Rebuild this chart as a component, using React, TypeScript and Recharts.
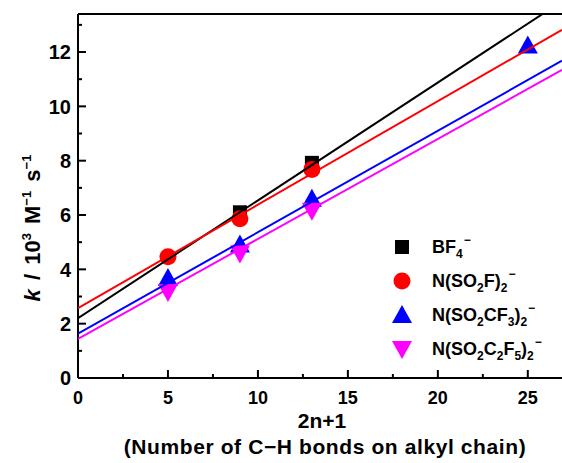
import { ScatterChart, Scatter, XAxis, YAxis, ReferenceLine } from "recharts";

// measured points (x = 2n+1, y = k / 10^3 M^-1 s^-1)
const BF4_PTS = [
  { x: 9, y: 6.1 },
  { x: 13, y: 7.92 },
];
const FSI_PTS = [
  { x: 5, y: 4.46 },
  { x: 9, y: 5.86 },
  { x: 13, y: 7.68 },
];
const TFSI_PTS = [
  { x: 5, y: 3.64 },
  { x: 9, y: 4.88 },
  { x: 13, y: 6.56 },
  { x: 25, y: 12.2 },
];
const BETI_PTS = [
  { x: 5, y: 3.2 },
  { x: 9, y: 4.62 },
  { x: 13, y: 6.19 },
];

// fitted lines, endpoints at x = 0 and right edge
const BF4_FIT = [
  { x: 0, y: 2.2 },
  { x: 26.9, y: 13.87 },
];
const FSI_FIT = [
  { x: 0, y: 2.57 },
  { x: 26.9, y: 12.82 },
];
const TFSI_FIT = [
  { x: 0, y: 1.63 },
  { x: 26.9, y: 11.68 },
];
const BETI_FIT = [
  { x: 0, y: 1.44 },
  { x: 26.9, y: 11.34 },
];

const X_TICKS = [0, 2.5, 5, 7.5, 10, 12.5, 15, 17.5, 20, 22.5, 25];
const Y_TICKS = [0, 1, 2, 3, 4, 5, 6, 7, 8, 9, 10, 11, 12, 13];
const X_MAX = 26.9;
const Y_MAX = 13.4;

const FONT = "'Liberation Sans', Arial, sans-serif";

const YTick = (props: any) => {
  const { x, y, payload } = props;
  const v = payload.value;
  const major = v % 2 === 0;
  const axisX = x + 7;
  return (
    <g>
      <line x1={axisX} x2={axisX + (major ? 8 : 4)} y1={y} y2={y} stroke="#000" strokeWidth={2} />
      {major && (
        <text x={x} y={y} dy="0.36em" textAnchor="end" fontSize={20} fontWeight="bold" fontFamily={FONT} fill="#000">
          {v}
        </text>
      )}
    </g>
  );
};

const XTick = (props: any) => {
  const { x, y, payload } = props;
  const v = payload.value;
  const major = v % 5 === 0;
  const axisY = y - 13;
  return (
    <g>
      <line x1={x} x2={x} y1={axisY} y2={axisY - (major ? 8 : 4)} stroke="#000" strokeWidth={2} />
      {major && (
        <text x={x} y={y} dy="0.71em" textAnchor="middle" fontSize={18} fontWeight="bold" fontFamily={FONT} fill="#000">
          {v}
        </text>
      )}
    </g>
  );
};

const Square = (p: any) => <rect x={p.cx - 7} y={p.cy - 7} width={14} height={14} fill="#000" />;
const Dot = (p: any) => <circle cx={p.cx} cy={p.cy} r={8.5} fill="#ff0000" />;
const TriUp = (p: any) => (
  <polygon points={`${p.cx},${p.cy - 11} ${p.cx - 10},${p.cy + 7} ${p.cx + 10},${p.cy + 7}`} fill="#0000ff" />
);
const TriDown = (p: any) => (
  <polygon points={`${p.cx},${p.cy + 11} ${p.cx - 10},${p.cy - 7} ${p.cx + 10},${p.cy - 7}`} fill="#ff00ff" />
);
const NoDot = () => null;

const legendRows = [
  { shape: "square", color: "#000", label: <>BF<sub>4</sub><sup>−</sup></> },
  { shape: "circle", color: "#ff0000", label: <>N(SO<sub>2</sub>F)<sub>2</sub><sup>−</sup></> },
  { shape: "up", color: "#0000ff", label: <>N(SO<sub>2</sub>CF<sub>3</sub>)<sub>2</sub><sup>−</sup></> },
  { shape: "down", color: "#ff00ff", label: <>N(SO<sub>2</sub>C<sub>2</sub>F<sub>5</sub>)<sub>2</sub><sup>−</sup></> },
];

function LegendMarker({ shape, color }: { shape: string; color: string }) {
  return (
    <svg width={22} height={22} style={{ display: "block" }}>
      {shape === "square" && <rect x={4} y={4} width={14} height={14} fill={color} />}
      {shape === "circle" && <circle cx={11} cy={11} r={8.5} fill={color} />}
      {shape === "up" && <polygon points="11,1 1,19 21,19" fill={color} />}
      {shape === "down" && <polygon points="11,21 1,3 21,3" fill={color} />}
    </svg>
  );
}

const supStyle = `
  .lg sub { font-size: 12px; vertical-align: -5px; line-height: 0; }
  .lg sup { font-size: 12px; vertical-align: 9px; line-height: 0; margin-left: 1px; }
  .yl sup { font-size: 13px; vertical-align: 9px; line-height: 0; }
`;

export default function App() {
  return (
    <div style={{ position: "absolute", left: 0, top: 0, width: 562, height: 463, background: "#fff", overflow: "hidden" }}>
      <style>{supStyle}</style>
      <ScatterChart width={562} height={463} margin={{ top: 14, right: 0, bottom: 0, left: 0 }}>
        <XAxis
          type="number"
          dataKey="x"
          domain={[0, X_MAX]}
          ticks={X_TICKS}
          allowDataOverflow
          height={85}
          tickSize={0}
          tickMargin={13}
          tick={<XTick />}
          axisLine={{ stroke: "#000", strokeWidth: 2 }}
          interval={0}
        />
        <YAxis
          type="number"
          dataKey="y"
          domain={[0, Y_MAX]}
          ticks={Y_TICKS}
          allowDataOverflow
          width={78}
          tickSize={0}
          tickMargin={7}
          tick={<YTick />}
          axisLine={{ stroke: "#000", strokeWidth: 2 }}
          interval={0}
        />
        <ReferenceLine y={Y_MAX} stroke="#000" strokeWidth={2} />
        <Scatter data={BF4_PTS} shape={<Square />} isAnimationActive={false} />
        <Scatter data={FSI_PTS} shape={<Dot />} isAnimationActive={false} />
        <Scatter data={TFSI_PTS} shape={<TriUp />} isAnimationActive={false} />
        <Scatter data={BETI_PTS} shape={<TriDown />} isAnimationActive={false} />
        <Scatter data={BF4_FIT} line={{ stroke: "#000", strokeWidth: 2 }} shape={<NoDot />} isAnimationActive={false} />
        <Scatter data={FSI_FIT} line={{ stroke: "#ff0000", strokeWidth: 2 }} shape={<NoDot />} isAnimationActive={false} />
        <Scatter data={TFSI_FIT} line={{ stroke: "#0000ff", strokeWidth: 2 }} shape={<NoDot />} isAnimationActive={false} />
        <Scatter data={BETI_FIT} line={{ stroke: "#ff00ff", strokeWidth: 2 }} shape={<NoDot />} isAnimationActive={false} />
      </ScatterChart>

      {/* legend */}
      <div className="lg" style={{ position: "absolute", left: 391, top: 230, fontFamily: FONT, fontSize: 18, fontWeight: "bold" }}>
        {legendRows.map((r, i) => (
          <div key={i} style={{ display: "flex", alignItems: "center", height: 34 }}>
            <LegendMarker shape={r.shape} color={r.color} />
            <span style={{ marginLeft: 19, whiteSpace: "nowrap" }}>{r.label}</span>
          </div>
        ))}
      </div>

      {/* y axis title */}
      <div
        className="yl"
        style={{
          position: "absolute",
          left: 33,
          top: 228,
          transform: "translate(-50%, -50%) rotate(-90deg)",
          whiteSpace: "nowrap",
          fontFamily: FONT,
          fontSize: 22,
          fontWeight: "bold",
          wordSpacing: 3,
        }}
      >
        <i>k</i> / 10<sup>3</sup> M<sup>−1</sup> s<sup>−1</sup>
      </div>

      {/* x axis titles */}
      <div style={{ position: "absolute", left: 0, width: 644, top: 409, textAlign: "center", fontFamily: FONT, fontSize: 21, fontWeight: "bold" }}>
        2n+1
      </div>
      <div style={{ position: "absolute", left: 0, width: 650, top: 435, textAlign: "center", fontFamily: FONT, fontSize: 21, fontWeight: "bold", letterSpacing: 0.6, whiteSpace: "nowrap" }}>
        (Number of C−H bonds on alkyl chain)
      </div>
    </div>
  );
}
